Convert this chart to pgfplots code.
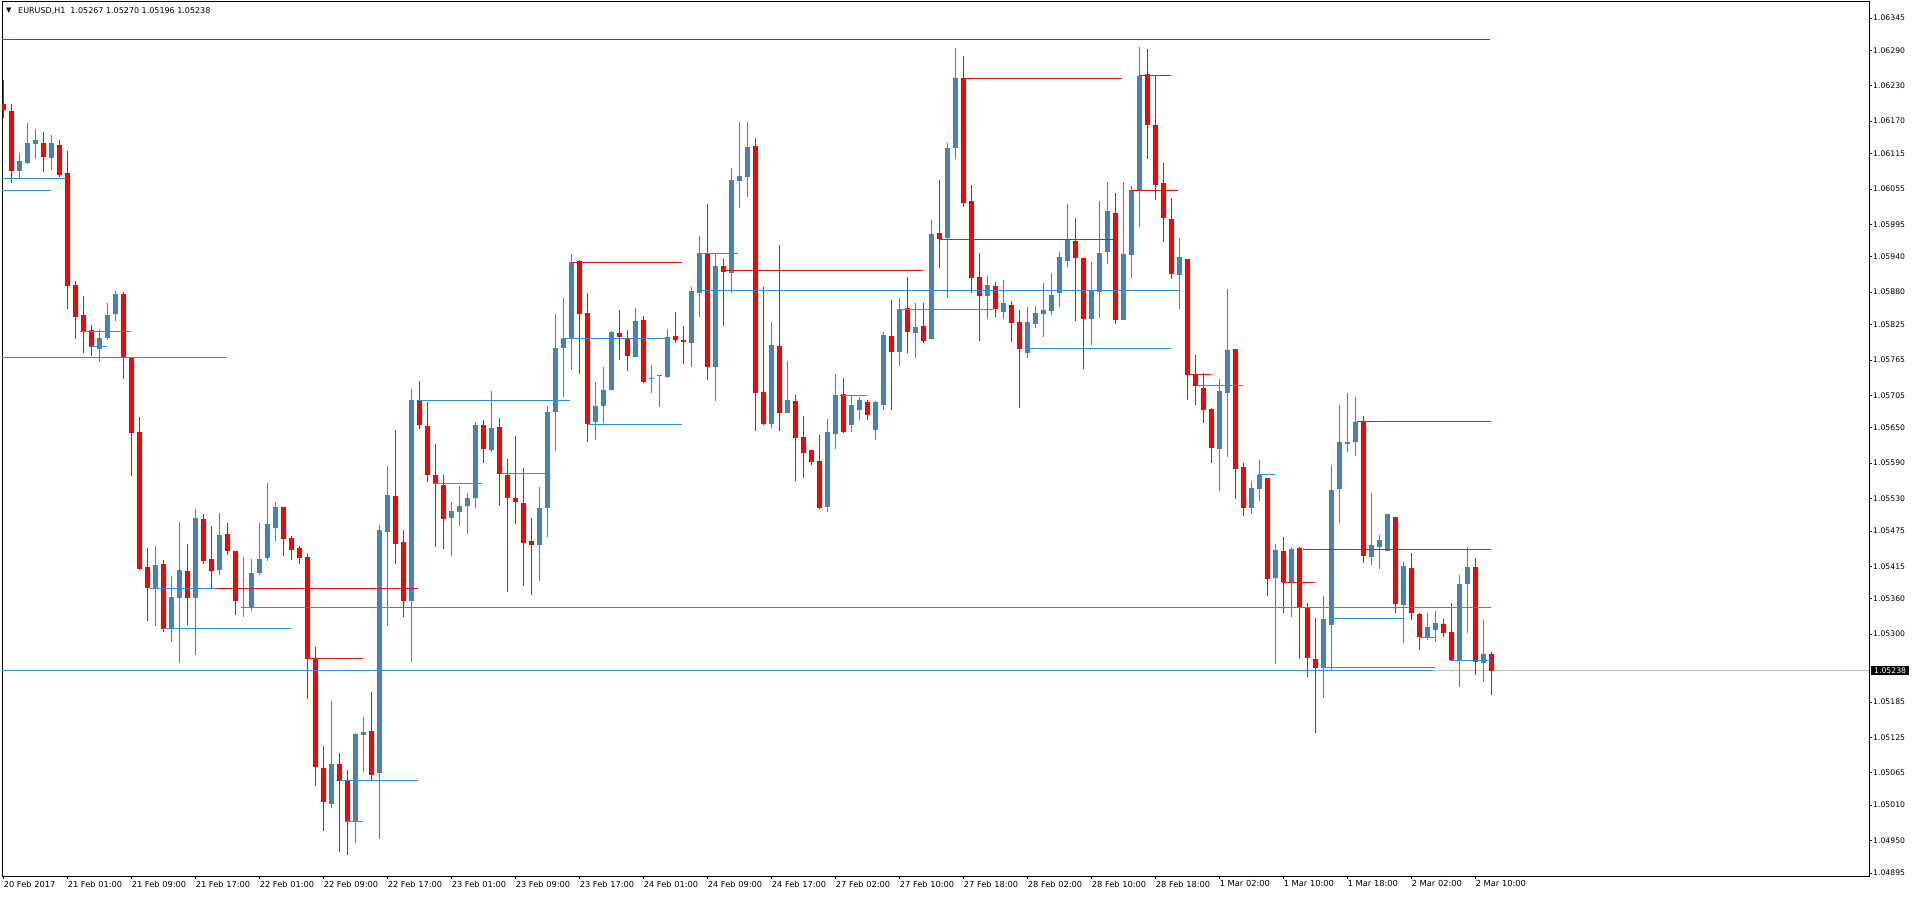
\documentclass[border=0pt]{standalone}
\usepackage{fontspec}
\setmainfont{DejaVu Sans}
\usepackage{pgfplots}
\usepackage{pgfplotstable}
\pgfplotsset{compat=1.18}

\definecolor{bullc}{RGB}{70,130,180}
\definecolor{bearc}{RGB}{255,0,0}
\definecolor{rline}{RGB}{215,25,25}
\definecolor{bline}{RGB}{50,140,225}
\definecolor{bidc}{RGB}{192,192,192}

% EURUSD H1 candles: bar index, open, high, low, close
\pgfplotstableread{
k o h l c
0 1.06199 1.06240 1.06175 1.06189
1 1.06187 1.06199 1.06065 1.06085
2 1.06085 1.06116 1.06074 1.06102
3 1.06099 1.06167 1.06097 1.06133
4 1.06131 1.06157 1.06106 1.06138
5 1.06133 1.06152 1.06084 1.06109
6 1.06108 1.06147 1.06087 1.06133
7 1.06130 1.06138 1.06075 1.06079
8 1.06082 1.06119 1.05851 1.05890
9 1.05892 1.05899 1.05801 1.05838
10 1.05841 1.05873 1.05777 1.05814
11 1.05816 1.05824 1.05772 1.05787
12 1.05784 1.05818 1.05762 1.05802
13 1.05802 1.05862 1.05799 1.05841
14 1.05843 1.05882 1.05831 1.05877
15 1.05877 1.05880 1.05733 1.05768
16 1.05770 1.05770 1.05568 1.05641
17 1.05643 1.05668 1.05409 1.05410
18 1.05414 1.05446 1.05322 1.05378
19 1.05377 1.05449 1.05314 1.05417
20 1.05419 1.05426 1.05304 1.05309
21 1.05309 1.05399 1.05287 1.05363
22 1.05361 1.05490 1.05251 1.05409
23 1.05407 1.05453 1.05315 1.05361
24 1.05361 1.05512 1.05265 1.05497
25 1.05495 1.05504 1.05419 1.05424
26 1.05427 1.05483 1.05378 1.05407
27 1.05409 1.05505 1.05400 1.05468
28 1.05470 1.05488 1.05434 1.05441
29 1.05441 1.05441 1.05332 1.05356
30 1.05344 1.05431 1.05329 1.05346
31 1.05346 1.05427 1.05339 1.05404
32 1.05404 1.05488 1.05400 1.05427
33 1.05429 1.05556 1.05424 1.05487
34 1.05480 1.05524 1.05458 1.05516
35 1.05516 1.05516 1.05432 1.05461
36 1.05463 1.05466 1.05426 1.05443
37 1.05446 1.05449 1.05419 1.05429
38 1.05431 1.05436 1.05190 1.05258
39 1.05258 1.05278 1.05042 1.05075
40 1.05073 1.05110 1.04966 1.05015
41 1.05012 1.05187 1.05005 1.05080
42 1.05080 1.05098 1.04931 1.05051
43 1.05053 1.05070 1.04925 1.04983
44 1.04983 1.05132 1.04946 1.05131
45 1.05129 1.05160 1.05066 1.05134
46 1.05136 1.05202 1.05053 1.05061
47 1.05065 1.05485 1.04953 1.05477
48 1.05473 1.05585 1.05314 1.05536
49 1.05534 1.05646 1.05419 1.05453
50 1.05456 1.05477 1.05329 1.05356
51 1.05356 1.05716 1.05253 1.05697
52 1.05697 1.05729 1.05648 1.05655
53 1.05653 1.05694 1.05558 1.05570
54 1.05570 1.05623 1.05448 1.05556
55 1.05553 1.05570 1.05444 1.05495
56 1.05497 1.05524 1.05432 1.05509
57 1.05507 1.05551 1.05483 1.05517
58 1.05517 1.05539 1.05470 1.05531
59 1.05531 1.05660 1.05514 1.05655
60 1.05655 1.05663 1.05590 1.05614
61 1.05612 1.05712 1.05609 1.05650
62 1.05651 1.05667 1.05517 1.05572
63 1.05570 1.05597 1.05371 1.05531
64 1.05531 1.05636 1.05487 1.05524
65 1.05522 1.05582 1.05382 1.05455
66 1.05458 1.05497 1.05366 1.05451
67 1.05451 1.05550 1.05390 1.05514
68 1.05514 1.05687 1.05465 1.05677
69 1.05677 1.05843 1.05611 1.05785
70 1.05785 1.05870 1.05702 1.05802
71 1.05801 1.05945 1.05748 1.05931
72 1.05933 1.05935 1.05741 1.05843
73 1.05845 1.05879 1.05626 1.05656
74 1.05660 1.05728 1.05629 1.05687
75 1.05687 1.05753 1.05658 1.05714
76 1.05714 1.05814 1.05714 1.05812
77 1.05811 1.05850 1.05765 1.05804
78 1.05802 1.05816 1.05746 1.05772
79 1.05770 1.05853 1.05770 1.05831
80 1.05833 1.05840 1.05726 1.05728
81 1.05733 1.05756 1.05709 1.05734
82 1.05737 1.05740 1.05685 1.05738
83 1.05736 1.05818 1.05734 1.05804
84 1.05806 1.05846 1.05794 1.05799
85 1.05799 1.05823 1.05758 1.05795
86 1.05794 1.05889 1.05753 1.05882
87 1.05879 1.05975 1.05838 1.05946
88 1.05946 1.06030 1.05731 1.05753
89 1.05753 1.05946 1.05695 1.05924
90 1.05924 1.05936 1.05823 1.05914
91 1.05912 1.06091 1.05879 1.06070
92 1.06069 1.06169 1.06023 1.06077
93 1.06075 1.06169 1.06041 1.06126
94 1.06128 1.06141 1.05644 1.05709
95 1.05711 1.05889 1.05655 1.05656
96 1.05656 1.05829 1.05650 1.05790
97 1.05789 1.05960 1.05644 1.05675
98 1.05675 1.05763 1.05675 1.05697
99 1.05695 1.05706 1.05560 1.05633
100 1.05634 1.05670 1.05565 1.05607
101 1.05612 1.05612 1.05587 1.05592
102 1.05594 1.05638 1.05512 1.05514
103 1.05516 1.05665 1.05507 1.05643
104 1.05639 1.05741 1.05614 1.05706
105 1.05707 1.05734 1.05641 1.05643
106 1.05655 1.05706 1.05643 1.05689
107 1.05680 1.05702 1.05663 1.05697
108 1.05694 1.05697 1.05663 1.05672
109 1.05646 1.05695 1.05629 1.05694
110 1.05689 1.05812 1.05680 1.05807
111 1.05806 1.05867 1.05680 1.05779
112 1.05779 1.05870 1.05755 1.05851
113 1.05853 1.05906 1.05777 1.05812
114 1.05811 1.05862 1.05768 1.05821
115 1.05823 1.05862 1.05794 1.05797
116 1.05801 1.06002 1.05801 1.05979
117 1.05980 1.06070 1.05921 1.05970
118 1.05972 1.06133 1.05870 1.06125
119 1.06125 1.06294 1.06106 1.06243
120 1.06243 1.06281 1.06024 1.06031
121 1.06035 1.06062 1.05879 1.05904
122 1.05906 1.05946 1.05797 1.05873
123 1.05873 1.05907 1.05834 1.05892
124 1.05890 1.05897 1.05838 1.05851
125 1.05846 1.05901 1.05834 1.05862
126 1.05858 1.05865 1.05795 1.05828
127 1.05829 1.05850 1.05684 1.05784
128 1.05777 1.05855 1.05768 1.05829
129 1.05826 1.05857 1.05819 1.05845
130 1.05843 1.05896 1.05804 1.05850
131 1.05848 1.05913 1.05841 1.05875
132 1.05879 1.05948 1.05855 1.05940
133 1.05933 1.06030 1.05923 1.05969
134 1.05967 1.06006 1.05831 1.05938
135 1.05938 1.05938 1.05750 1.05834
136 1.05834 1.05931 1.05790 1.05884
137 1.05880 1.06035 1.05836 1.05946
138 1.05948 1.06067 1.05928 1.06018
139 1.06014 1.06048 1.05826 1.05833
140 1.05833 1.06067 1.05833 1.05945
141 1.05943 1.06060 1.05904 1.06053
142 1.06052 1.06296 1.05991 1.06247
143 1.06250 1.06292 1.06106 1.06164
144 1.06164 1.06247 1.06036 1.06062
145 1.06065 1.06099 1.05965 1.06006
146 1.06004 1.06040 1.05902 1.05911
147 1.05909 1.05972 1.05851 1.05940
148 1.05936 1.05936 1.05697 1.05740
149 1.05740 1.05773 1.05689 1.05721
150 1.05718 1.05743 1.05658 1.05680
151 1.05682 1.05684 1.05590 1.05616
152 1.05614 1.05733 1.05543 1.05712
153 1.05709 1.05885 1.05600 1.05782
154 1.05784 1.05784 1.05529 1.05580
155 1.05584 1.05590 1.05500 1.05514
156 1.05514 1.05560 1.05504 1.05548
157 1.05546 1.05595 1.05526 1.05570
158 1.05565 1.05565 1.05365 1.05394
159 1.05395 1.05453 1.05249 1.05443
160 1.05441 1.05465 1.05336 1.05388
161 1.05388 1.05448 1.05329 1.05444
162 1.05446 1.05448 1.05258 1.05346
163 1.05344 1.05353 1.05227 1.05260
164 1.05258 1.05327 1.05132 1.05243
165 1.05243 1.05365 1.05192 1.05326
166 1.05316 1.05587 1.05239 1.05545
167 1.05546 1.05689 1.05488 1.05626
168 1.05623 1.05709 1.05609 1.05626
169 1.05626 1.05702 1.05602 1.05660
170 1.05660 1.05670 1.05421 1.05432
171 1.05431 1.05539 1.05417 1.05451
172 1.05448 1.05468 1.05410 1.05460
173 1.05441 1.05504 1.05441 1.05504
174 1.05499 1.05499 1.05336 1.05351
175 1.05349 1.05422 1.05285 1.05416
176 1.05412 1.05438 1.05324 1.05336
177 1.05334 1.05336 1.05273 1.05295
178 1.05294 1.05336 1.05290 1.05312
179 1.05307 1.05339 1.05287 1.05319
180 1.05317 1.05326 1.05295 1.05302
181 1.05304 1.05353 1.05254 1.05256
182 1.05254 1.05400 1.05210 1.05385
183 1.05385 1.05448 1.05302 1.05414
184 1.05414 1.05429 1.05231 1.05253
185 1.05251 1.05324 1.05219 1.05266
186 1.05267 1.05270 1.05196 1.05238
}\ohlc

\begin{document}
\begin{tikzpicture}
\begin{axis}[
  at={(0,0)}, anchor=south west,
  scale only axis,
  width=1867pt, height=874pt,
  xmin=-0.2, xmax=233.175,
  ymin=1.048898, ymax=1.063721,
  clip mode=individual,
  axis line style={black, line width=1pt},
  tick align=outside,
  major tick length=3pt,
  tick style={black, line width=0.8pt},
  xtick pos=bottom, ytick pos=right,
  yticklabel pos=right,
  xtick={0,8,...,184},
  xticklabels={20 Feb 2017, 21 Feb 01:00, 21 Feb 09:00, 21 Feb 17:00, 22 Feb 01:00, 22 Feb 09:00, 22 Feb 17:00, 23 Feb 01:00, 23 Feb 09:00, 23 Feb 17:00, 24 Feb 01:00, 24 Feb 09:00, 24 Feb 17:00, 27 Feb 02:00, 27 Feb 10:00, 27 Feb 18:00, 28 Feb 02:00, 28 Feb 10:00, 28 Feb 18:00, 1 Mar 02:00, 1 Mar 10:00, 1 Mar 18:00, 2 Mar 02:00, 2 Mar 10:00},
  xticklabel style={anchor=north west, inner sep=0pt, yshift=-1.5pt,
    font=\fontsize{8.3}{9}\selectfont},
  ytick={1.06345,1.06290,1.06230,1.06170,1.06115,1.06055,1.05995,1.05940,1.05880,1.05825,1.05765,1.05705,1.05650,1.05590,1.05530,1.05475,1.05415,1.05360,1.05300,1.05185,1.05125,1.05065,1.05010,1.04950,1.04895},
  yticklabels={1.06345,1.06290,1.06230,1.06170,1.06115,1.06055,1.05995,1.05940,1.05880,1.05825,1.05765,1.05705,1.05650,1.05590,1.05530,1.05475,1.05415,1.05360,1.05300,1.05185,1.05125,1.05065,1.05010,1.04950,1.04895},
  yticklabel style={anchor=west, inner sep=0pt, xshift=1pt,
    font=\fontsize{7.7}{9}\selectfont},
  wick/.style={draw=none, mark=none, forget plot,
    error bars/.cd, y dir=plus, y explicit, error mark=none,
    error bar style={draw=#1, line width=1pt}},
  body/.style={draw=none, mark=none, forget plot,
    error bars/.cd, y dir=plus, y explicit, error mark=none,
    error bar style={draw=#1, line width=5pt}},
  rl/.style={rline, line width=1pt, mark=none, forget plot},
  bl/.style={bline, line width=1pt, mark=none, forget plot},
]

% bid line
\addplot[bidc, line width=1pt, mark=none, forget plot] coordinates {(-0.2,1.05238) (233.175,1.05238)};

% wicks
\addplot[wick=bullc] table[x=k,
  y expr={\thisrow{c}>=\thisrow{o} ? \thisrow{l} : nan},
  y error expr={\thisrow{h}-\thisrow{l}}] {\ohlc};
\addplot[wick=bearc] table[x=k,
  y expr={\thisrow{c}<\thisrow{o} ? \thisrow{l} : nan},
  y error expr={\thisrow{h}-\thisrow{l}}] {\ohlc};
% bodies
\addplot[body=bullc] table[x=k,
  y expr={\thisrow{c}>=\thisrow{o} ? \thisrow{o} : nan},
  y error expr={max(\thisrow{c}-\thisrow{o},0.000017)}] {\ohlc};
\addplot[body=bearc] table[x=k,
  y expr={\thisrow{c}<\thisrow{o} ? \thisrow{c} : nan},
  y error expr={max(\thisrow{o}-\thisrow{c},0.000017)}] {\ohlc};

% resistance lines
\addplot[rl] coordinates {(-0.2,1.06308) (185.8,1.06308)};
\addplot[rl] coordinates {(119.9,1.06243) (139.8,1.06243)};
\addplot[rl] coordinates {(142.0,1.06247) (145.9,1.06247)};
\addplot[rl] coordinates {(140.8,1.06053) (146.8,1.06053)};
\addplot[rl] coordinates {(117.0,1.05970) (138.7,1.05970)};
\addplot[rl] coordinates {(71.0,1.05931) (84.8,1.05931)};
\addplot[rl] coordinates {(89.9,1.05916) (114.9,1.05916)};
\addplot[rl] coordinates {(169.2,1.05660) (185.9,1.05660)};
\addplot[rl] coordinates {(162.4,1.05444) (185.9,1.05444)};
\addplot[rl] coordinates {(159.8,1.05388) (163.9,1.05388)};
\addplot[rl] coordinates {(26.4,1.05377) (51.8,1.05377)};
\addplot[rl] coordinates {(37.9,1.05258) (44.9,1.05258)};
\addplot[rl] coordinates {(147.9,1.05740) (150.9,1.05740)};

% support lines
\addplot[bl] coordinates {(-0.2,1.06072) (7.8,1.06072)};
\addplot[bl] coordinates {(-0.2,1.06052) (5.9,1.06052)};
\addplot[bl] coordinates {(-0.2,1.05770) (27.9,1.05770)};
\addplot[bl] coordinates {(9.5,1.05814) (15.9,1.05814)};
\addplot[bl] coordinates {(10.8,1.05787) (12.9,1.05787)};
\addplot[bl] coordinates {(18.3,1.05378) (26.4,1.05378)};
\addplot[bl] coordinates {(19.9,1.05309) (35.9,1.05309)};
\addplot[bl] coordinates {(29.8,1.05346) (185.9,1.05346)};
\addplot[bl] coordinates {(-0.2,1.05239) (178.7,1.05239)};
\addplot[bl] coordinates {(164.9,1.05243) (178.9,1.05243)};
\addplot[bl] coordinates {(42.0,1.05051) (51.8,1.05051)};
\addplot[bl] coordinates {(42.7,1.04983) (44.9,1.04983)};
\addplot[bl] coordinates {(51.8,1.05697) (70.8,1.05697)};
\addplot[bl] coordinates {(53.7,1.05556) (59.8,1.05556)};
\addplot[bl] coordinates {(62.0,1.05572) (67.8,1.05572)};
\addplot[bl] coordinates {(69.9,1.05802) (83.3,1.05802)};
\addplot[bl] coordinates {(87.0,1.05882) (146.9,1.05882)};
\addplot[bl] coordinates {(86.7,1.05946) (91.8,1.05946)};
\addplot[bl] coordinates {(72.9,1.05656) (84.8,1.05656)};
\addplot[bl] coordinates {(112.0,1.05851) (123.7,1.05851)};
\addplot[bl] coordinates {(127.7,1.05784) (145.9,1.05784)};
\addplot[bl] coordinates {(104.5,1.05704) (107.9,1.05704)};
\addplot[bl] coordinates {(149.2,1.05721) (154.9,1.05721)};
\addplot[bl] coordinates {(156.8,1.05570) (158.9,1.05570)};
\addplot[bl] coordinates {(165.8,1.05326) (174.9,1.05326)};
\addplot[bl] coordinates {(176.9,1.05295) (178.9,1.05295)};
\addplot[bl] coordinates {(180.8,1.05256) (185.9,1.05256)};

% header and bid label
\node[anchor=west, inner sep=0pt, font=\fontsize{7}{8}\selectfont]
  at (rel axis cs:0,1) [xshift=4pt, yshift=-9pt] {▼};
\node[anchor=west, inner sep=0pt, font=\fontsize{8}{9}\selectfont]
  at (rel axis cs:0,1) [xshift=16pt, yshift=-9pt] {EURUSD,H1\ \ 1.05267 1.05270 1.05196 1.05238};
\node[anchor=west, fill=black, text=white, inner xsep=3pt, inner ysep=1.5pt,
  font=\fontsize{7.7}{9}\selectfont]
  at (axis cs:233.175,1.05238) [xshift=2pt] {1.05238};
\end{axis}
\pgfresetboundingbox
\useasboundingbox (-2pt,-21pt) rectangle (1910pt,876pt);
\end{tikzpicture}
\end{document}
